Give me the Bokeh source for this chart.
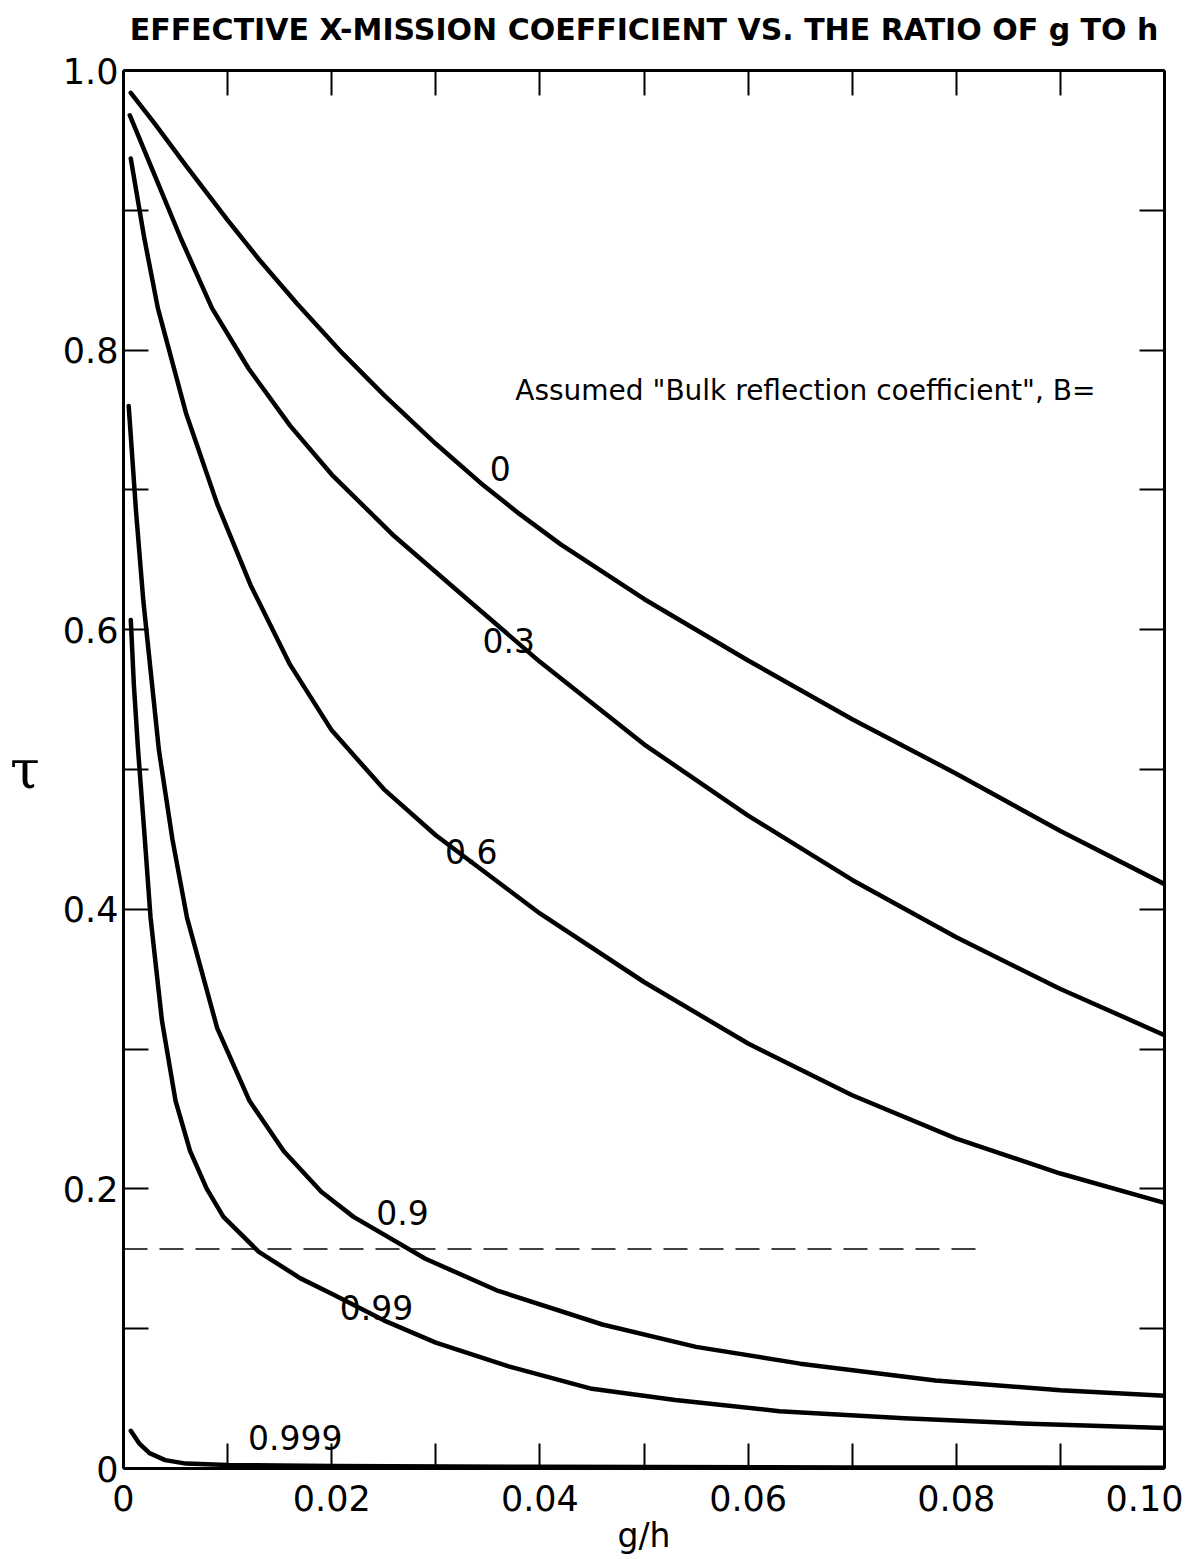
from bokeh.plotting import figure
from bokeh.models import Range1d, LinearAxis, FixedTicker, Label
from bokeh.embed import file_html
from bokeh.resources import INLINE

FONT = "DejaVu Sans"

# ---- data ----
b0_x = [0.0007, 0.003, 0.006, 0.01, 0.013, 0.0167, 0.021, 0.025, 0.03, 0.0343, 0.038, 0.042, 0.05, 0.06, 0.07,
        0.08, 0.09, 0.1]
b0_y = [0.984, 0.962, 0.932, 0.893, 0.865, 0.833, 0.798, 0.768, 0.733, 0.705, 0.683, 0.661, 0.622, 0.578, 0.536,
        0.497, 0.456, 0.418]

b3_x = [0.0006, 0.003, 0.0055, 0.0085, 0.012, 0.016, 0.02, 0.026, 0.0333, 0.04, 0.05, 0.06, 0.07, 0.08, 0.09, 0.1]
b3_y = [0.968, 0.925, 0.88, 0.83, 0.787, 0.746, 0.711, 0.667, 0.62, 0.577, 0.518, 0.467, 0.421, 0.38, 0.343, 0.31]

b6_x = [0.0007, 0.002, 0.0033, 0.006, 0.009, 0.0122, 0.016, 0.02, 0.025, 0.03, 0.04, 0.05, 0.06, 0.07, 0.08,
        0.09, 0.1]
b6_y = [0.937, 0.88, 0.83, 0.755, 0.69, 0.632, 0.575, 0.528, 0.486, 0.453, 0.397, 0.348, 0.304, 0.267, 0.236,
        0.211, 0.19]

b9_x = [0.0005, 0.0012, 0.0019, 0.0034, 0.0047, 0.0061, 0.009, 0.0121, 0.0154, 0.019, 0.0221, 0.029, 0.036,
        0.046, 0.055, 0.065, 0.078, 0.09, 0.1]
b9_y = [0.76, 0.685, 0.621, 0.514, 0.45, 0.394, 0.315, 0.263, 0.227, 0.198, 0.18, 0.15, 0.127,
        0.103, 0.087, 0.075, 0.063, 0.056, 0.052]

b99_x = [0.0007, 0.001, 0.0014, 0.002, 0.0026, 0.0037, 0.005, 0.0064, 0.008, 0.0096, 0.013, 0.017, 0.02,
         0.025, 0.03, 0.037, 0.045, 0.053, 0.063, 0.075, 0.087, 0.1]
b99_y = [0.607, 0.56, 0.514, 0.455, 0.394, 0.32, 0.263, 0.227, 0.2, 0.18, 0.155, 0.136, 0.125,
         0.106, 0.09, 0.073, 0.057, 0.049, 0.041, 0.036, 0.032, 0.029]

b999_x = [0.0007, 0.0015, 0.0025, 0.004, 0.006, 0.01, 0.02, 0.04, 0.07, 0.1]
b999_y = [0.027, 0.018, 0.011, 0.006, 0.0035, 0.0025, 0.0018, 0.0012, 0.0008, 0.0005]

dash_x = [0.0, 0.0823]
dash_y = [0.157, 0.157]

curve_names = ["0", "0.3", "0.6", "0.9", "0.99", "0.999"]
curve_label_x = [0.0362, 0.0370, 0.0334, 0.0268, 0.0243, 0.0165]
curve_label_y = [0.715, 0.592, 0.441, 0.183, 0.115, 0.022]

x_major = [0.0, 0.02, 0.04, 0.06, 0.08, 0.1]
x_minor = [0.01, 0.03, 0.05, 0.07, 0.09]
y_major = [0.0, 0.2, 0.4, 0.6, 0.8, 1.0]
y_minor = [0.1, 0.3, 0.5, 0.7, 0.9]

title_text = "EFFECTIVE X-MISSION COEFFICIENT VS. THE RATIO OF g TO h"
annot_text = 'Assumed "Bulk reflection coefficient", B='
x_title = "g/h"
y_title = "τ"

p = figure(frame_width=1041, frame_height=1398, output_backend="svg",
           toolbar_location=None, x_range=Range1d(0, 0.1), y_range=Range1d(0, 1.0),
           x_axis_type=None, y_axis_type=None,
           min_border_left=123, min_border_right=19, min_border_top=70, min_border_bottom=85)
p.grid.visible = False
p.outline_line_color = None
p.background_fill_color = "white"
p.border_fill_color = "white"


def mk_axis(ticks, minor, show_labels, overrides):
    ax = LinearAxis(ticker=FixedTicker(ticks=ticks, minor_ticks=minor))
    ax.axis_line_width = 3
    ax.axis_line_color = "black"
    ax.major_tick_in = 25
    ax.major_tick_out = 0
    ax.minor_tick_in = 25
    ax.minor_tick_out = 0
    ax.major_tick_line_width = 2
    ax.minor_tick_line_width = 2
    ax.major_tick_line_color = "black"
    ax.minor_tick_line_color = "black"
    if show_labels:
        ax.major_label_text_font = FONT
        ax.major_label_text_font_size = "35px"
        ax.major_label_text_color = "black"
        ax.major_label_overrides = overrides
    else:
        ax.major_label_text_font_size = "0px"
        ax.major_label_text_color = None
        ax.major_label_standoff = 0
    ax.axis_label_text_font = FONT
    ax.axis_label_text_font_style = "normal"
    ax.axis_label_text_color = "black"
    return ax


xb = mk_axis(x_major, x_minor, True, {0.0: "0", 0.1: "0.10"})
xb.major_label_standoff = 16
xb.axis_label = x_title
xb.axis_label_text_font_size = "33px"
xb.axis_label_standoff = 2
p.add_layout(xb, "below")

xt = mk_axis(x_major, x_minor, False, {})
xt.axis_label = title_text
xt.axis_label_text_font_size = "30px"
xt.axis_label_text_font_style = "bold"
xt.axis_label_standoff = 24
p.add_layout(xt, "above")

yl = mk_axis(y_major, y_minor, True, {0.0: "0", 1.0: "1.0"})
yl.major_label_standoff = 5
yl.axis_label = y_title
yl.axis_label_orientation = "horizontal"
yl.axis_label_text_font = "DejaVu Serif"
yl.axis_label_text_font_size = "54px"
yl.axis_label_standoff = 20
p.add_layout(yl, "left")
p.add_layout(mk_axis(y_major, y_minor, False, {}), "right")

for xs, ys in [(b0_x, b0_y), (b3_x, b3_y), (b6_x, b6_y), (b9_x, b9_y), (b99_x, b99_y), (b999_x, b999_y)]:
    p.line(xs, ys, line_width=4.5, line_color="black", line_cap="round", line_join="round")

p.line(dash_x, dash_y, line_width=1.5, line_color="black", line_dash="24 12")

for name, lx, ly in zip(curve_names, curve_label_x, curve_label_y):
    p.add_layout(Label(x=lx, y=ly, text=name, text_font=FONT, text_font_size="33px",
                       text_align="center", text_baseline="middle", text_color="black"))

p.add_layout(Label(x=0.0655, y=0.771, text=annot_text, text_font=FONT, text_font_size="28px",
                   text_align="center", text_baseline="middle", text_color="black"))

open("out.html", "w").write(file_html(p, INLINE))
